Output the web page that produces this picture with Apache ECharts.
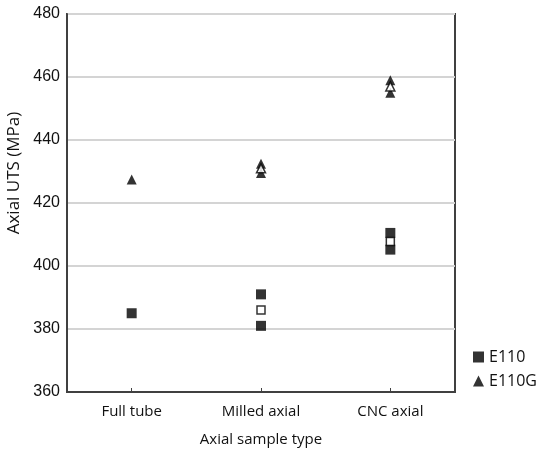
<!DOCTYPE html>
<html>
<head>
<meta charset="utf-8">
<script src="https://cdn.jsdelivr.net/npm/echarts@6/dist/echarts.min.js"></script>
<style>
  html, body { margin: 0; padding: 0; background: #fff; }
  #chart { width: 538px; height: 456px; }
</style>
</head>
<body>
<div id="chart"></div>
<script>
  // categories
  const categories = ['Full tube', 'Milled axial', 'CNC axial'];
  // individual specimens [category index, value]
  const e110 = [[0, 385], [1, 391], [1, 381], [2, 410.5], [2, 405.2]];
  const e110g = [[0, 427.5], [1, 432.5], [1, 429.5], [2, 459], [2, 455]];
  // means (hollow markers)
  const e110Mean = [[1, 386], [2, 407.8]];
  const e110gMean = [[1, 431], [2, 457]];

  const txt = '#111';
  const chart = echarts.init(document.getElementById('chart'));
  chart.setOption({
    animation: false,
    grid: {
      left: 67, right: 83, top: 14, bottom: 64,
      outerBoundsMode: 'none',
      containLabel: false,
      show: true, borderColor: '#404040', borderWidth: 2,
      backgroundColor: 'transparent'
    },
    legend: {
      orient: 'vertical',
      left: 468, top: 344,
      itemGap: 8,
      itemWidth: 11, itemHeight: 11,
      textStyle: { fontFamily: 'Open Sans', fontSize: 16, color: txt },
      data: [
        { name: 'E110', icon: 'rect' },
        { name: 'E110G', icon: 'triangle' }
      ]
    },
    xAxis: {
      type: 'category',
      data: categories,
      boundaryGap: true,
      name: 'Axial sample type',
      nameLocation: 'middle',
      nameGap: 40,
      nameTextStyle: { fontFamily: 'Open Sans', fontSize: 15, color: txt },
      axisLine: { lineStyle: { color: '#404040', width: 2 } },
      axisTick: { show: true, inside: true, alignWithLabel: true, length: 4, lineStyle: { color: '#404040' } },
      axisLabel: { fontFamily: 'Open Sans', fontSize: 15, color: txt, margin: 12 },
      splitLine: { show: false }
    },
    yAxis: {
      type: 'value',
      min: 360, max: 480, interval: 20,
      name: '{a|Axial UTS (MPa)}',
      nameLocation: 'middle',
      nameGap: 42,
      nameTextStyle: {
        fontFamily: 'Open Sans', fontSize: 17, color: txt,
        rich: { a: { fontFamily: 'Open Sans', fontSize: 17, color: txt, padding: [0, 0, 0, 60] } }
      },
      axisLine: { show: true, lineStyle: { color: '#404040', width: 2 } },
      axisTick: { show: false },
      axisLabel: { fontFamily: 'Liberation Sans', fontSize: 16, color: txt, margin: 7 },
      splitLine: { show: true, lineStyle: { color: '#d4d4d4', width: 2 } }
    },
    series: [
      {
        name: 'E110', type: 'scatter', data: e110,
        symbol: 'rect', symbolSize: 10,
        itemStyle: { color: '#000' }
      },
      {
        name: 'E110G', type: 'scatter', data: e110g,
        symbol: 'triangle', symbolSize: 10,
        itemStyle: { color: '#000' }
      },
      {
        name: 'E110 mean', type: 'scatter', data: e110Mean,
        symbol: 'rect', symbolSize: 8,
        itemStyle: { color: '#fff', borderColor: '#000', borderWidth: 1.5 }
      },
      {
        name: 'E110G mean', type: 'scatter', data: e110gMean,
        symbol: 'triangle', symbolSize: 9,
        itemStyle: { color: '#fff', borderColor: '#000', borderWidth: 1.5 }
      }
    ]
  });
</script>
</body>
</html>
